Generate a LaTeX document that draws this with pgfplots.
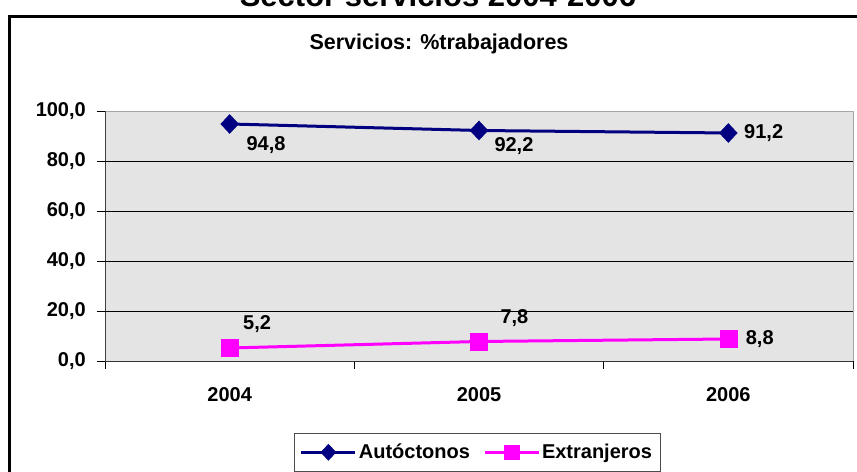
\documentclass[border=0pt]{standalone}
\usepackage{pgfplots}
\pgfplotsset{compat=1.18}
\usepackage{pgfplotstable}
\usepackage{fontspec}
\setmainfont{Liberation Sans}
\definecolor{navyline}{RGB}{0,0,128}
\definecolor{magline}{RGB}{255,0,255}
\definecolor{plotbg}{RGB}{228,228,228}
\pgfkeys{/pgf/number format/assume math mode=true}

\pgfplotstableread{
x y dx dy
0 94.8 16.7 -21.3
1 92.2 15.3 -15.6
2 91.2 15.7 0
}\autoc
\pgfplotstableread{
x y dx dy
0 5.2 13.3 24
1 7.8 21.3 23
2 8.8 17.3 0
}\extr

\pgfplotsset{
  labelled/.style={
    point meta=y,
    nodes near coords={\pgfmathprintnumber[fixed,fixed zerofill,precision=1,use comma]{\pgfplotspointmeta}},
    visualization depends on={\thisrow{dx} \as \ldx},
    visualization depends on={\thisrow{dy} \as \ldy},
    every node near coord/.append style={anchor=west, inner sep=0pt, xshift={\ldx*1bp}, yshift={\ldy*1bp}, text=black, font=\bfseries\fontsize{20bp}{24bp}\selectfont},
  }
}

\begin{document}
\begin{tikzpicture}[x=1bp,y=1bp]
\useasboundingbox (0,0) rectangle (857,472);
\clip (0,0) rectangle (857,472);
\fill[white] (0,0) rectangle (857,472);
\node[anchor=base, inner sep=0pt, font=\bfseries\fontsize{31bp}{36bp}\selectfont] at (438,465) {Sector servicios 2004-2006};
\draw[line width=2.7bp] (9.3,455.7) rectangle (920,-50);
\node[font=\bfseries\fontsize{21.5bp}{25bp}\selectfont] at (439,428) {Servicios: \%trabajadores};
\begin{axis}[
  at={(105bp,111bp)}, anchor=south west,
  scale only axis, width=748bp, height=250bp,
  xmin=-0.5, xmax=2.5, ymin=0, ymax=100,
  axis lines*=left,
  x axis line style={-, black!80, line width=0.9bp},
  y axis line style={-, black!75, line width=0.9bp},
  axis background/.style={fill=plotbg, draw=gray!70, line width=0.9bp},
  tick align=outside, major tick length=8bp,
  tick style={black, line width=0.8bp},
  xtick={-0.5,0.5,1.5,2.5}, xticklabels={},
  extra x ticks={0,1,2}, extra x tick labels={2004,2005,2006},
  extra x tick style={major tick length=0pt},
  ytick={0,20,40,60,80,100},
  extra y ticks={20,40,60,80}, extra y tick labels={},
  extra y tick style={major tick length=0pt, grid=major},
  major grid style={black, line width=0.8bp},
  yticklabel={\pgfmathprintnumber[fixed,fixed zerofill,precision=1,use comma]{\tick}},
  ticklabel style={font=\bfseries\fontsize{20bp}{24bp}\selectfont},
  yticklabel style={inner sep=0pt, xshift=-11bp},
  xticklabel style={inner sep=0pt, yshift=-26bp},
  clip=false,
  legend columns=2,
  legend style={at={(0.4973,-0.288)}, anchor=north, draw=black!70, fill=white,
    font=\bfseries\fontsize{20bp}{24bp}\selectfont, inner xsep=6bp, inner ysep=9bp,
    /tikz/every even column/.append style={column sep=11bp}},
  legend image code/.code={\draw[mark repeat=2, mark phase=2, #1, every mark/.append style={scale=0.85}] plot coordinates {(0bp,0bp) (27bp,0bp) (54bp,0bp)};},
]
\addplot[labelled, color=navyline, line width=3bp, mark=diamond*, mark size=9.5bp, mark options={solid, line width=0.4bp, xscale=1.25}] table[x=x,y=y] {\autoc};
\addlegendentry{Autóctonos}
\addplot[labelled, color=magline, line width=3bp, mark=square*, mark size=8.5bp, mark options={solid, line width=0.4bp}] table[x=x,y=y] {\extr};
\addlegendentry{Extranjeros}
\end{axis}
\end{tikzpicture}
\end{document}
